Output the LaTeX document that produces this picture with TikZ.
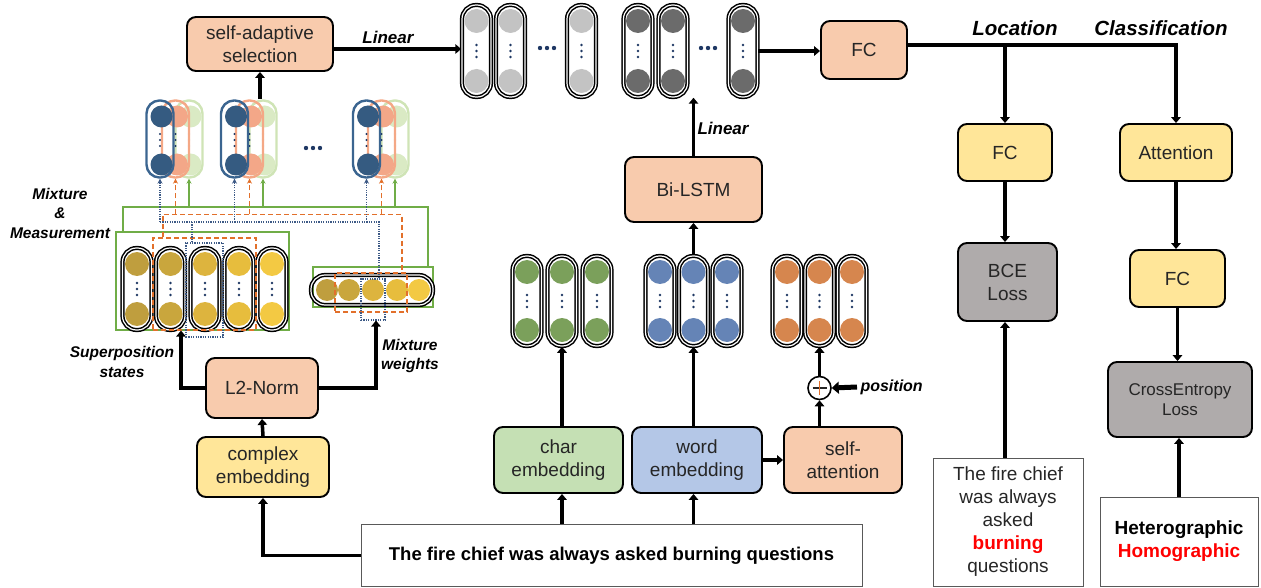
\documentclass[tikz,border=0pt]{standalone}
\usepackage{fontspec}
\setmainfont{Liberation Sans}
\usetikzlibrary{arrows.meta}
\definecolor{peach}{HTML}{F8CBAD}
\definecolor{yel}{HTML}{FFE699}
\definecolor{lgreen}{HTML}{C5E0B4}
\definecolor{lblue}{HTML}{B4C7E7}
\definecolor{lgray}{HTML}{AFABAB}
\definecolor{txt}{HTML}{262626}
\definecolor{gcirc}{HTML}{C3C3C3}
\definecolor{dcirc}{HTML}{6B6B6B}
\definecolor{grc}{HTML}{7BA05B}
\definecolor{blc}{HTML}{6584B6}
\definecolor{orc}{HTML}{D6864E}
\definecolor{ya}{HTML}{BF9E3E}
\definecolor{yb}{HTML}{C9A63D}
\definecolor{yc}{HTML}{DDB43E}
\definecolor{yd}{HTML}{E7BD3D}
\definecolor{ye}{HTML}{F3C943}
\definecolor{dotc}{HTML}{1F3864}
\definecolor{gline}{HTML}{70AD47}
\definecolor{oline}{HTML}{E2702B}
\definecolor{bline}{HTML}{3D5A86}
\definecolor{mbl}{HTML}{3B6590}
\definecolor{mbf}{HTML}{355B81}
\definecolor{msl}{HTML}{F4A886}
\definecolor{msf}{HTML}{F3A788}
\definecolor{mgl}{HTML}{CFE4B6}
\definecolor{mgf}{HTML}{DAEAC4}
\definecolor{bord}{HTML}{595959}
\newcommand{\vpill}[6]{%
  \node[pill, minimum height=#4] (#1) at (#2,#3) {};
  \fill[#6] (#2,{#3-#4/2+4+#5}) circle[radius=#5pt];
  \fill[#6] (#2,{#3+#4/2-4-#5}) circle[radius=#5pt];
  \foreach \dd in {-6,0,6} \fill[dotc] (#2,{#3+\dd}) circle[radius=1.3pt];
}
\newcommand{\mpill}[4]{%
  \node[mpillst, draw=#3, minimum height=77] (#1) at (#2,139) {};
  \fill[#4] ({#2+1.5},116.5) circle[radius=11pt];
  \fill[#4] ({#2+1.5},164.5) circle[radius=11pt];
  \foreach \dd in {-6,0,6} \fill[dotc] (#2,{140+\dd}) circle[radius=1.2pt];
}
\newcommand{\threedots}[2]{%
  \foreach \dd in {-7,0,7} \fill[dotc] ({#1+\dd},#2) circle[radius=2.2pt];
}
\begin{document}
\begin{tikzpicture}[x=1pt,y=-1pt,
  font=\fontsize{19}{23}\selectfont,
  box/.style={draw=black,line width=1.9pt,rounded corners=9pt,align=center,inner sep=0pt,text=txt},
  arr/.style={line width=3.5pt,-{Triangle[length=6pt,width=9.5pt]}},
  pill/.style={draw=black,line width=1.5pt,double=white,double distance=1.2pt,rounded corners=14pt,minimum width=29pt,inner sep=0pt},
  mpillst/.style={line width=2.4pt,rounded corners=13pt,minimum width=27pt,inner sep=0pt},
  lab/.style={font=\fontsize{17}{20}\selectfont\bfseries\itshape,text=black},
  biglab/.style={font=\fontsize{20.5}{24}\selectfont\bfseries\itshape,text=black},
  sml/.style={font=\fontsize{15.5}{19.5}\selectfont\bfseries\itshape,align=center,text=black},
  gl/.style={draw=gline,line width=1.2pt},
  ol/.style={draw=oline,line width=1.3pt,dash pattern=on 5pt off 3pt},
  bl/.style={draw=bline,line width=1.1pt,dash pattern=on 1.2pt off 1.2pt},
  tip/.style={-{Stealth[length=5pt,width=5pt]}},
  tbox/.style={draw=bord,line width=1pt,align=center,inner sep=0pt,text=txt}
]
\useasboundingbox (0,0) rectangle (1261,588);

% ---------- top row ----------
\node[box,fill=peach,minimum width=146,minimum height=54] (sas) at (260,44) {self-adaptive\\selection};
\node[lab] (lin1) at (388,37) {Linear};

\vpill{gp1}{476.5}{51}{92}{12}{gcirc}
\vpill{gp2}{510.5}{51}{92}{12}{gcirc}
\threedots{547}{48}
\vpill{gp3}{581.5}{51}{92}{12}{gcirc}
\vpill{gp4}{638}{51}{92}{12}{dcirc}
\vpill{gp5}{673}{51}{92}{12}{dcirc}
\threedots{708}{48}
\vpill{gp6}{743}{51}{92}{12}{dcirc}

\draw[arr] ([yshift=-5pt]sas.east) -- ([yshift=-5pt]sas.east -| gp1.west);

\node[box,fill=peach,minimum width=86,minimum height=58] (fc) at (864,50) {FC};
\draw[arr] (gp6.east) -- (gp6.east -| fc.west);

\node[biglab] (loc) at (1015,28) {Location};
\node[biglab] (cls) at (1161,28) {Classification};

% ---------- right column ----------
\node[box,fill=yel,minimum width=94,minimum height=57] (fc2) at (1005,152.5) {FC};
\node[box,fill=yel,minimum width=112,minimum height=57] (att) at (1176,152.5) {Attention};
\node[box,fill=lgray,minimum width=99,minimum height=78] (bce) at (1007.5,282) {BCE\\Loss};
\node[box,fill=yel,minimum width=95,minimum height=57] (fc3) at (1177.5,278.5) {FC};
\node[box,fill=lgray,minimum width=144,minimum height=75,font=\fontsize{17}{20}\selectfont] (ce) at (1180,399.5) {CrossEntropy\\Loss};

\coordinate (jL) at (1005,45);
\draw[arr] ([yshift=5pt]fc.east) -| (att.north);
\draw[arr] (jL) -- (fc2.north);
\draw[arr] (fc2.south) -- (fc2.south |- bce.north);
\draw[arr] (att.south) -- (att.south |- fc3.north);
\draw[arr] (fc3.south) -- (fc3.south |- ce.north);

\node[tbox,minimum width=150,minimum height=128] (tb) at (1008,522) {The fire chief\\was always\\asked\\\textcolor{red}{\bfseries burning}\\questions};
\node[tbox,minimum width=158,minimum height=89,text=black,font=\fontsize{19}{23}\selectfont\bfseries] (hb) at (1179,541.5) {Heterographic\\\textcolor{red}{Homographic}};
\draw[arr] ([xshift=-3pt]tb.north) -- ([xshift=-3pt]tb.north |- bce.south);
\draw[arr] (hb.north) -- (hb.north |- ce.south);

% ---------- middle column ----------
\node[box,fill=peach,minimum width=137,minimum height=65] (bil) at (693.5,189.5) {Bi-LSTM};
\node[lab] (lin2) at (723,128) {Linear};
\draw[arr] (bil.north) -- (bil.north |- gp5.south);

\vpill{ge1}{527}{301}{90}{12}{grc}
\vpill{ge2}{562}{301}{90}{12}{grc}
\vpill{ge3}{597}{301}{90}{12}{grc}
\vpill{be1}{660}{301}{90}{12}{blc}
\vpill{be2}{693.5}{301}{90}{12}{blc}
\vpill{be3}{727}{301}{90}{12}{blc}
\vpill{oe1}{787}{301}{90}{12}{orc}
\vpill{oe2}{819.5}{301}{90}{12}{orc}
\vpill{oe3}{852}{301}{90}{12}{orc}

\draw[arr] (be2.north) -- (bil.south);

\node[box,fill=lgreen,minimum width=129,minimum height=66] (chr) at (558.5,460) {char\\embedding};
\node[box,fill=lblue,minimum width=130,minimum height=66] (wrd) at (697,460) {word\\embedding};
\node[box,fill=peach,minimum width=118,minimum height=66] (sat) at (843,460) {self-\\attention};
\draw[arr] (wrd.east) -- (sat.west);

\node[circle,draw=black,line width=1.6pt,fill=white,minimum size=23pt,inner sep=0pt] (plus) at (819.5,388) {};
\draw[line width=1.3pt,draw=txt] ([xshift=-7pt]plus.center) -- ([xshift=7pt]plus.center);
\draw[line width=1.3pt,draw=oline] ([yshift=-7pt]plus.center) -- ([yshift=7pt]plus.center);
\node[lab,anchor=west,font=\fontsize{16}{19}\selectfont\bfseries\itshape] (pos) at (857,387) {position};
\draw[line width=5pt,-{Triangle[length=7pt,width=12pt]}] (pos.west) -- (plus.east);

\draw[arr] (plus.south |- sat.north) -- (plus.south);
\draw[arr] (plus.north) -- (oe2.south);
\draw[arr] (ge2.south |- chr.north) -- (ge2.south);
\draw[arr] (be2.south |- wrd.north) -- (be2.south);

\node[tbox,minimum width=501,minimum height=62,font=\fontsize{18.5}{22}\selectfont\bfseries,text=black] (sent) at (611.5,555.5) {The fire chief was always asked burning questions};
\draw[arr] (sent.north -| ge2.south) -- (ge2.south |- chr.south);
\draw[arr] (sent.north -| be2.south) -- (be2.south |- wrd.south);

% ---------- left column ----------
\node[box,fill=yel,minimum width=132,minimum height=60] (cpx) at (263,467) {complex\\embedding};
\node[box,fill=peach,minimum width=112,minimum height=60] (l2) at (262,388) {L2-Norm};
\draw[arr] (sent.west) -| (cpx.south);
\draw[arr] (cpx.north) -- (l2.south);

% superposition states
\node[draw=gline,line width=1.2pt,minimum width=173,minimum height=98,inner sep=0pt] (sup) at (202.5,281) {};
\vpill{y1}{137}{289}{82}{12}{ya}
\vpill{y2}{170.5}{289}{82}{12}{yb}
\vpill{y3}{205}{289}{82}{12}{yc}
\vpill{y4}{239}{289}{82}{12}{yd}
\vpill{y5}{272}{289}{82}{12}{ye}
\node[ol,minimum width=103,minimum height=92,inner sep=0pt] (osup) at (204.5,284) {};
\node[bl,minimum width=37,minimum height=94,inner sep=0pt] (bsup) at (204.5,290) {};

% mixture weights
\node[draw=gline,line width=1.2pt,minimum width=120,minimum height=40,inner sep=0pt] (mix) at (373,287) {};
\node[pill,minimum width=122,minimum height=30] (hp) at (372,290) {};
\fill[ya] (327,290) circle[radius=11pt];
\fill[yb] (349,290) circle[radius=11pt];
\fill[yc] (373,290) circle[radius=11pt];
\fill[yd] (397,290) circle[radius=11pt];
\fill[ye] (419,290) circle[radius=11pt];
\node[ol,minimum width=72,minimum height=39,inner sep=0pt] (omix) at (371,292.5) {};
\node[bl,minimum width=24,minimum height=41,inner sep=0pt] (bmix) at (373,299.5) {};

\draw[arr] (l2.west) -| (sup.south -| 181,0);
\draw[arr] (l2.east) -| (bmix.south -| 376,0);

\node[sml] (sups) at (122,362) {Superposition\\states};
\node[sml] (mixw) at (410,356) {Mixture\\weights};
\node[sml] (mm) at (60,213) {Mixture\\\&\\Measurement};

% measured pills
\mpill{mg1}{189}{mgl}{mgf}
\mpill{ms1}{175.5}{msl}{msf}
\mpill{mb1}{160}{mbl}{mbf}
\mpill{mg2}{263}{mgl}{mgf}
\mpill{ms2}{249.5}{msl}{msf}
\mpill{mb2}{234.5}{mbl}{mbf}
\mpill{mg3}{395}{mgl}{mgf}
\mpill{ms3}{381.5}{msl}{msf}
\mpill{mb3}{366.5}{mbl}{mbf}
\threedots{313}{148}

\draw[arr] (mb2.north -| sas.south) -- (sas.south);

% mixture & measurement connectors
\coordinate (gL) at (123,207);
\coordinate (gR) at (428,207);
\draw[gl] (sup.north -| gL) -- (gL) -- (gR) -- (mix.north -| gR);
\draw[gl,tip] (mg1.south |- gL) -- (mg1.south);
\draw[gl,tip] (mg2.south |- gL) -- (mg2.south);
\draw[gl,tip] (mg3.south |- gL) -- (mg3.south);

\coordinate (oL) at (163,214.5);
\coordinate (oR) at (402,214.5);
\draw[ol] (osup.north -| oL) -- (oL) -- (oR) -- (omix.north -| oR);
\draw[ol,tip] (ms1.south |- oL) -- (ms1.south);
\draw[ol,tip] (ms2.south |- oL) -- (ms2.south);
\draw[ol,tip] (ms3.south |- oL) -- (ms3.south);

\coordinate (bL) at (160,222);
\coordinate (bR) at (379,222);
\coordinate (bS) at (192,222);
\draw[bl] (bsup.north -| bS) -- (bS);
\draw[bl] (bL) -- (bR) -- (bmix.north -| bR);
\draw[bl,tip] (bL) -- (mb1.south);
\draw[bl,tip] (mb2.south |- bL) -- (mb2.south);
\draw[bl,tip] (mb3.south |- bL) -- (mb3.south);
\end{tikzpicture}
\end{document}
